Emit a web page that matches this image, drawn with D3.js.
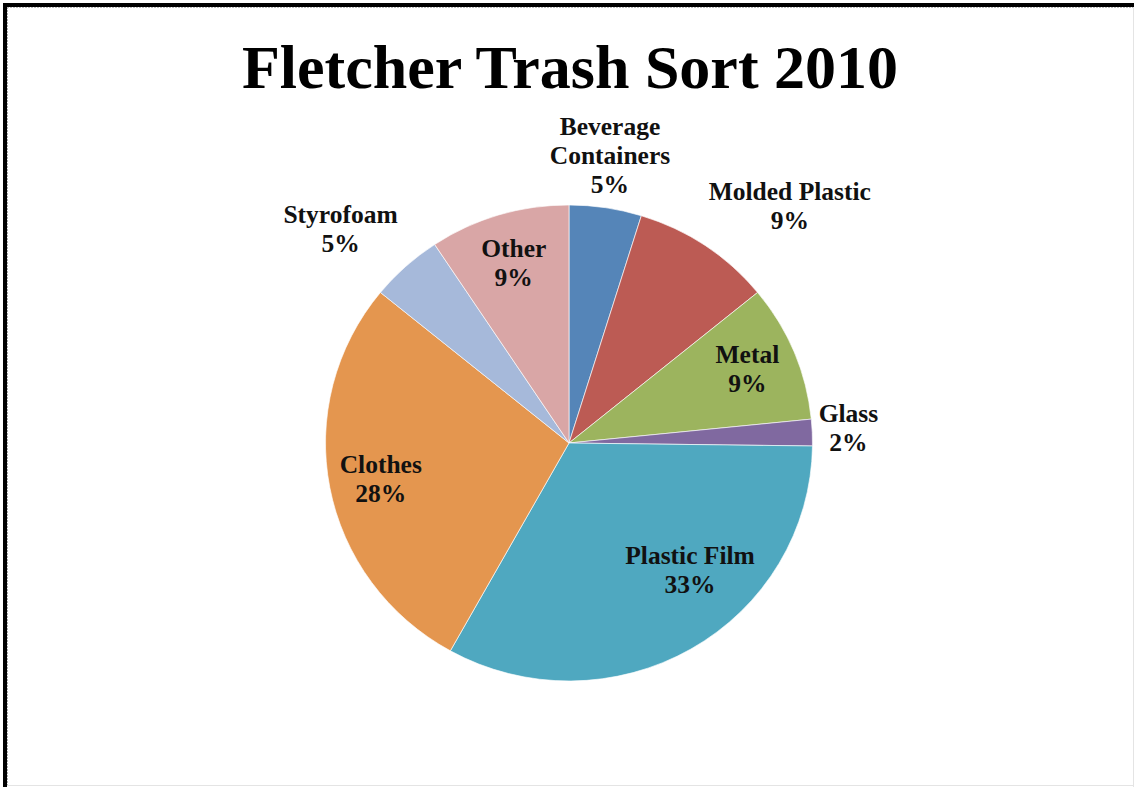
<!DOCTYPE html>
<head>
<meta charset="utf-8">
<style>
body { margin: 0; background: #fff; }
svg { display: block; }
.title { font: bold 62px "Liberation Serif", "Times New Roman", serif; }
.lbl { font: bold 25.5px "Liberation Serif", "Times New Roman", serif; fill: #111; }
.slice { stroke: #fff; stroke-width: 0.8px; stroke-opacity: 0.8; }
</style>
<script src="https://d3js.org/d3.v7.min.js"></script>
</head>
<body>
<svg width="1134" height="787"></svg>
<script>
// values (percent of total weight)
var categories = ["Beverage Containers", "Molded Plastic", "Metal", "Glass",
                  "Plastic Film", "Clothes", "Styrofoam", "Other"];
var shares = [4.8, 9.3, 9.3, 1.8, 32.9, 27.8, 4.8, 9.3];
var shown = ["5%", "9%", "9%", "2%", "33%", "28%", "5%", "9%"];
var labelLines = [["Beverage", "Containers"], ["Molded Plastic"], ["Metal"], ["Glass"],
                  ["Plastic Film"], ["Clothes"], ["Styrofoam"], ["Other"]];
var colors = ["#5585b8", "#bc5b54", "#9cb45e", "#8069a0",
              "#4fa8c0", "#e4964f", "#a6b9da", "#d9a6a6"];

// where Excel put each label: radius as part of R, turn in degrees off the mid angle
var labelPlace = [
  {r: 1.16, turn: -0.3}, {r: 1.305, turn: 10}, {r: 0.78, turn: 2.4}, {r: 1.148, turn: 1.1},
  {r: 0.745, turn: -11.8}, {r: 0.794, turn: -2.4}, {r: 1.262, turn: -5.9}, {r: 0.741, turn: -1.1}
];

var svg = d3.select("svg"),
    cx = 569, cy = 443,
    R = 243.5, Ry = 238,
    lineH = 29;

// frame
svg.append("rect").attr("x", 3).attr("y", 3).attr("width", 1131).attr("height", 4).attr("fill", "#000");
svg.append("rect").attr("x", 3).attr("y", 3).attr("width", 4).attr("height", 784).attr("fill", "#000");
svg.append("line").attr("x1", 7.5).attr("x2", 7.5).attr("y1", 7).attr("y2", 787)
    .attr("stroke", "#aaa").attr("stroke-dasharray", "2,1");
svg.append("line").attr("x1", 7).attr("x2", 1134).attr("y1", 7.5).attr("y2", 7.5)
    .attr("stroke", "#bbb").attr("stroke-dasharray", "2,1");
svg.append("line").attr("x1", 1133.5).attr("x2", 1133.5).attr("y1", 7).attr("y2", 787)
    .attr("stroke", "#e4e4e4");
svg.append("line").attr("x1", 7).attr("x2", 1134).attr("y1", 785.5).attr("y2", 785.5)
    .attr("stroke", "#e4e4e4");

svg.append("text")
    .attr("class", "title")
    .attr("x", cx + 1)
    .attr("y", 88)
    .attr("text-anchor", "middle")
    .text("Fletcher Trash Sort 2010");

var data = categories.map(function(c, i) {
  return {name: c, value: shares[i], pct: shown[i], lines: labelLines[i], color: colors[i], place: labelPlace[i]};
});

var pie = d3.pie().sort(null).value(function(d) { return d.value; });
var arc = d3.arc().innerRadius(0).outerRadius(R);
var arcs = pie(data);

var g = svg.append("g")
    .attr("transform", "translate(" + cx + "," + cy + ") scale(1," + (Ry / R) + ")");

g.selectAll("path")
  .data(arcs)
  .enter().append("path")
    .attr("class", "slice")
    .attr("d", arc)
    .attr("fill", function(d) { return d.data.color; });

var labels = svg.append("g").attr("text-anchor", "middle")
  .selectAll("text")
  .data(arcs)
  .enter().append("text")
    .attr("class", "lbl")
    .each(function(d) {
      var p = d.data.place,
          a = (d.startAngle + d.endAngle) / 2 + p.turn * Math.PI / 180,
          x = cx + p.r * R * Math.sin(a),
          y = cy - p.r * R * Math.cos(a),
          lines = d.data.lines.concat([d.data.pct]),
          top = y - (lines.length - 1) * lineH / 2,
          t = d3.select(this);
      lines.forEach(function(s, i) {
        t.append("tspan").attr("x", x).attr("y", top + i * lineH).text(s);
      });
    });
</script>
</body>
